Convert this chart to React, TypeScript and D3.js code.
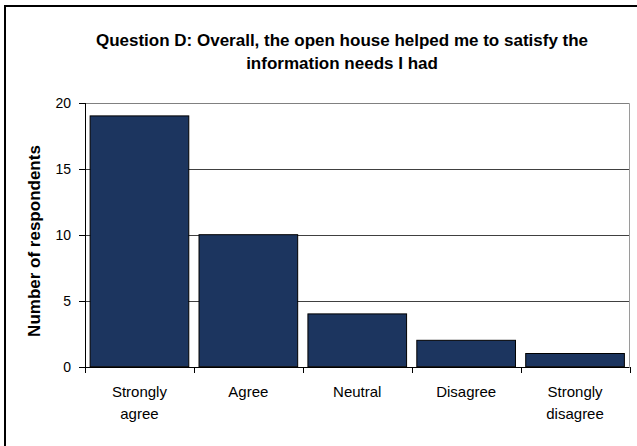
import React from "react";
import * as d3 from "d3";

const categories = ["Strongly agree", "Agree", "Neutral", "Disagree", "Strongly disagree"];
const categoryLines = [["Strongly", "agree"], ["Agree"], ["Neutral"], ["Disagree"], ["Strongly", "disagree"]];
const values = [19, 10, 4, 2, 1];
const yTicks = [0, 5, 10, 15, 20];
const titleLines = ["Question D: Overall, the open house helped me to satisfy the", "information needs I had"];
const yAxisTitle = "Number of respondents";

const W = 637;
const H = 446;
const plot = { left: 85, right: 629.5, top: 102.7, bottom: 366.7 };
const font = "'Liberation Sans', Arial, sans-serif";

export default function App() {
  const x = d3
    .scaleBand<string>()
    .domain(categories)
    .range([plot.left, plot.right])
    .paddingInner(0.094)
    .paddingOuter(0.047);
  const y = d3.scaleLinear().domain([0, 20]).range([plot.bottom, plot.top]);
  const step = x.step();
  const boundaries = d3.range(categories.length + 1).map((i) => plot.left + i * step);

  return (
    <svg
      width={W}
      height={H}
      style={{ position: "absolute", left: 0, top: 0, background: "#fff" }}
      fontFamily={font}
    >
      <rect x={0} y={0} width={W} height={H} fill="#fff" />
      {/* outer chart border (extends beyond the image) */}
      <rect x={5} y={6} width={W + 40} height={H + 40} fill="none" stroke="#000" strokeWidth={2} />

      {/* title */}
      {titleLines.map((t, i) => (
        <text
          key={i}
          x={342}
          y={46 + i * 23}
          textAnchor="middle"
          fontSize={17}
          fontWeight="bold"
          fill="#000"
        >
          {t}
        </text>
      ))}

      {/* gridlines */}
      {yTicks
        .filter((t) => t > 0)
        .map((t) => (
          <line
            key={t}
            x1={plot.left}
            x2={plot.right}
            y1={Math.round(y(t)) + 0.5}
            y2={Math.round(y(t)) + 0.5}
            stroke={t === 20 ? "#808080" : "#404040"}
            strokeWidth={1}
          />
        ))}
      {/* right plot border */}
      <line
        x1={plot.right}
        x2={plot.right}
        y1={Math.round(y(20)) + 0.5}
        y2={plot.bottom}
        stroke="#9a9a9a"
        strokeWidth={1}
      />

      {/* bars */}
      {categories.map((c, i) => (
        <rect
          key={c}
          x={x(c)}
          y={y(values[i])}
          width={x.bandwidth()}
          height={y(0) - y(values[i])}
          fill="#1c355f"
          stroke="#000"
          strokeWidth={1}
        />
      ))}

      {/* y axis */}
      <line x1={plot.left + 0.5} x2={plot.left + 0.5} y1={Math.round(y(20))} y2={Math.round(y(0)) + 1} stroke="#000" />
      {yTicks.map((t) => (
        <g key={t}>
          <line
            x1={plot.left - 6}
            x2={plot.left}
            y1={Math.round(y(t)) + 0.5}
            y2={Math.round(y(t)) + 0.5}
            stroke="#000"
          />
          <text x={71} y={y(t)} dy="0.35em" textAnchor="end" fontSize={14} fill="#000">
            {t}
          </text>
        </g>
      ))}

      {/* x axis */}
      <line x1={plot.left} x2={plot.right} y1={Math.round(y(0)) + 0.5} y2={Math.round(y(0)) + 0.5} stroke="#000" />
      {boundaries.map((b, i) => (
        <line
          key={i}
          x1={Math.round(b) + 0.5}
          x2={Math.round(b) + 0.5}
          y1={Math.round(y(0))}
          y2={Math.round(y(0)) + 6}
          stroke="#000"
        />
      ))}
      {categories.map((c, i) => (
        <text key={c} textAnchor="middle" fontSize={15} fill="#000">
          {categoryLines[i].map((l, j) => (
            <tspan key={j} x={(x(c) as number) + x.bandwidth() / 2} y={397 + j * 22}>
              {l}
            </tspan>
          ))}
        </text>
      ))}

      {/* y axis title */}
      <text
        transform={`translate(40,241) rotate(-90)`}
        textAnchor="middle"
        fontSize={17}
        fontWeight="bold"
        fill="#000"
      >
        {yAxisTitle}
      </text>
    </svg>
  );
}
